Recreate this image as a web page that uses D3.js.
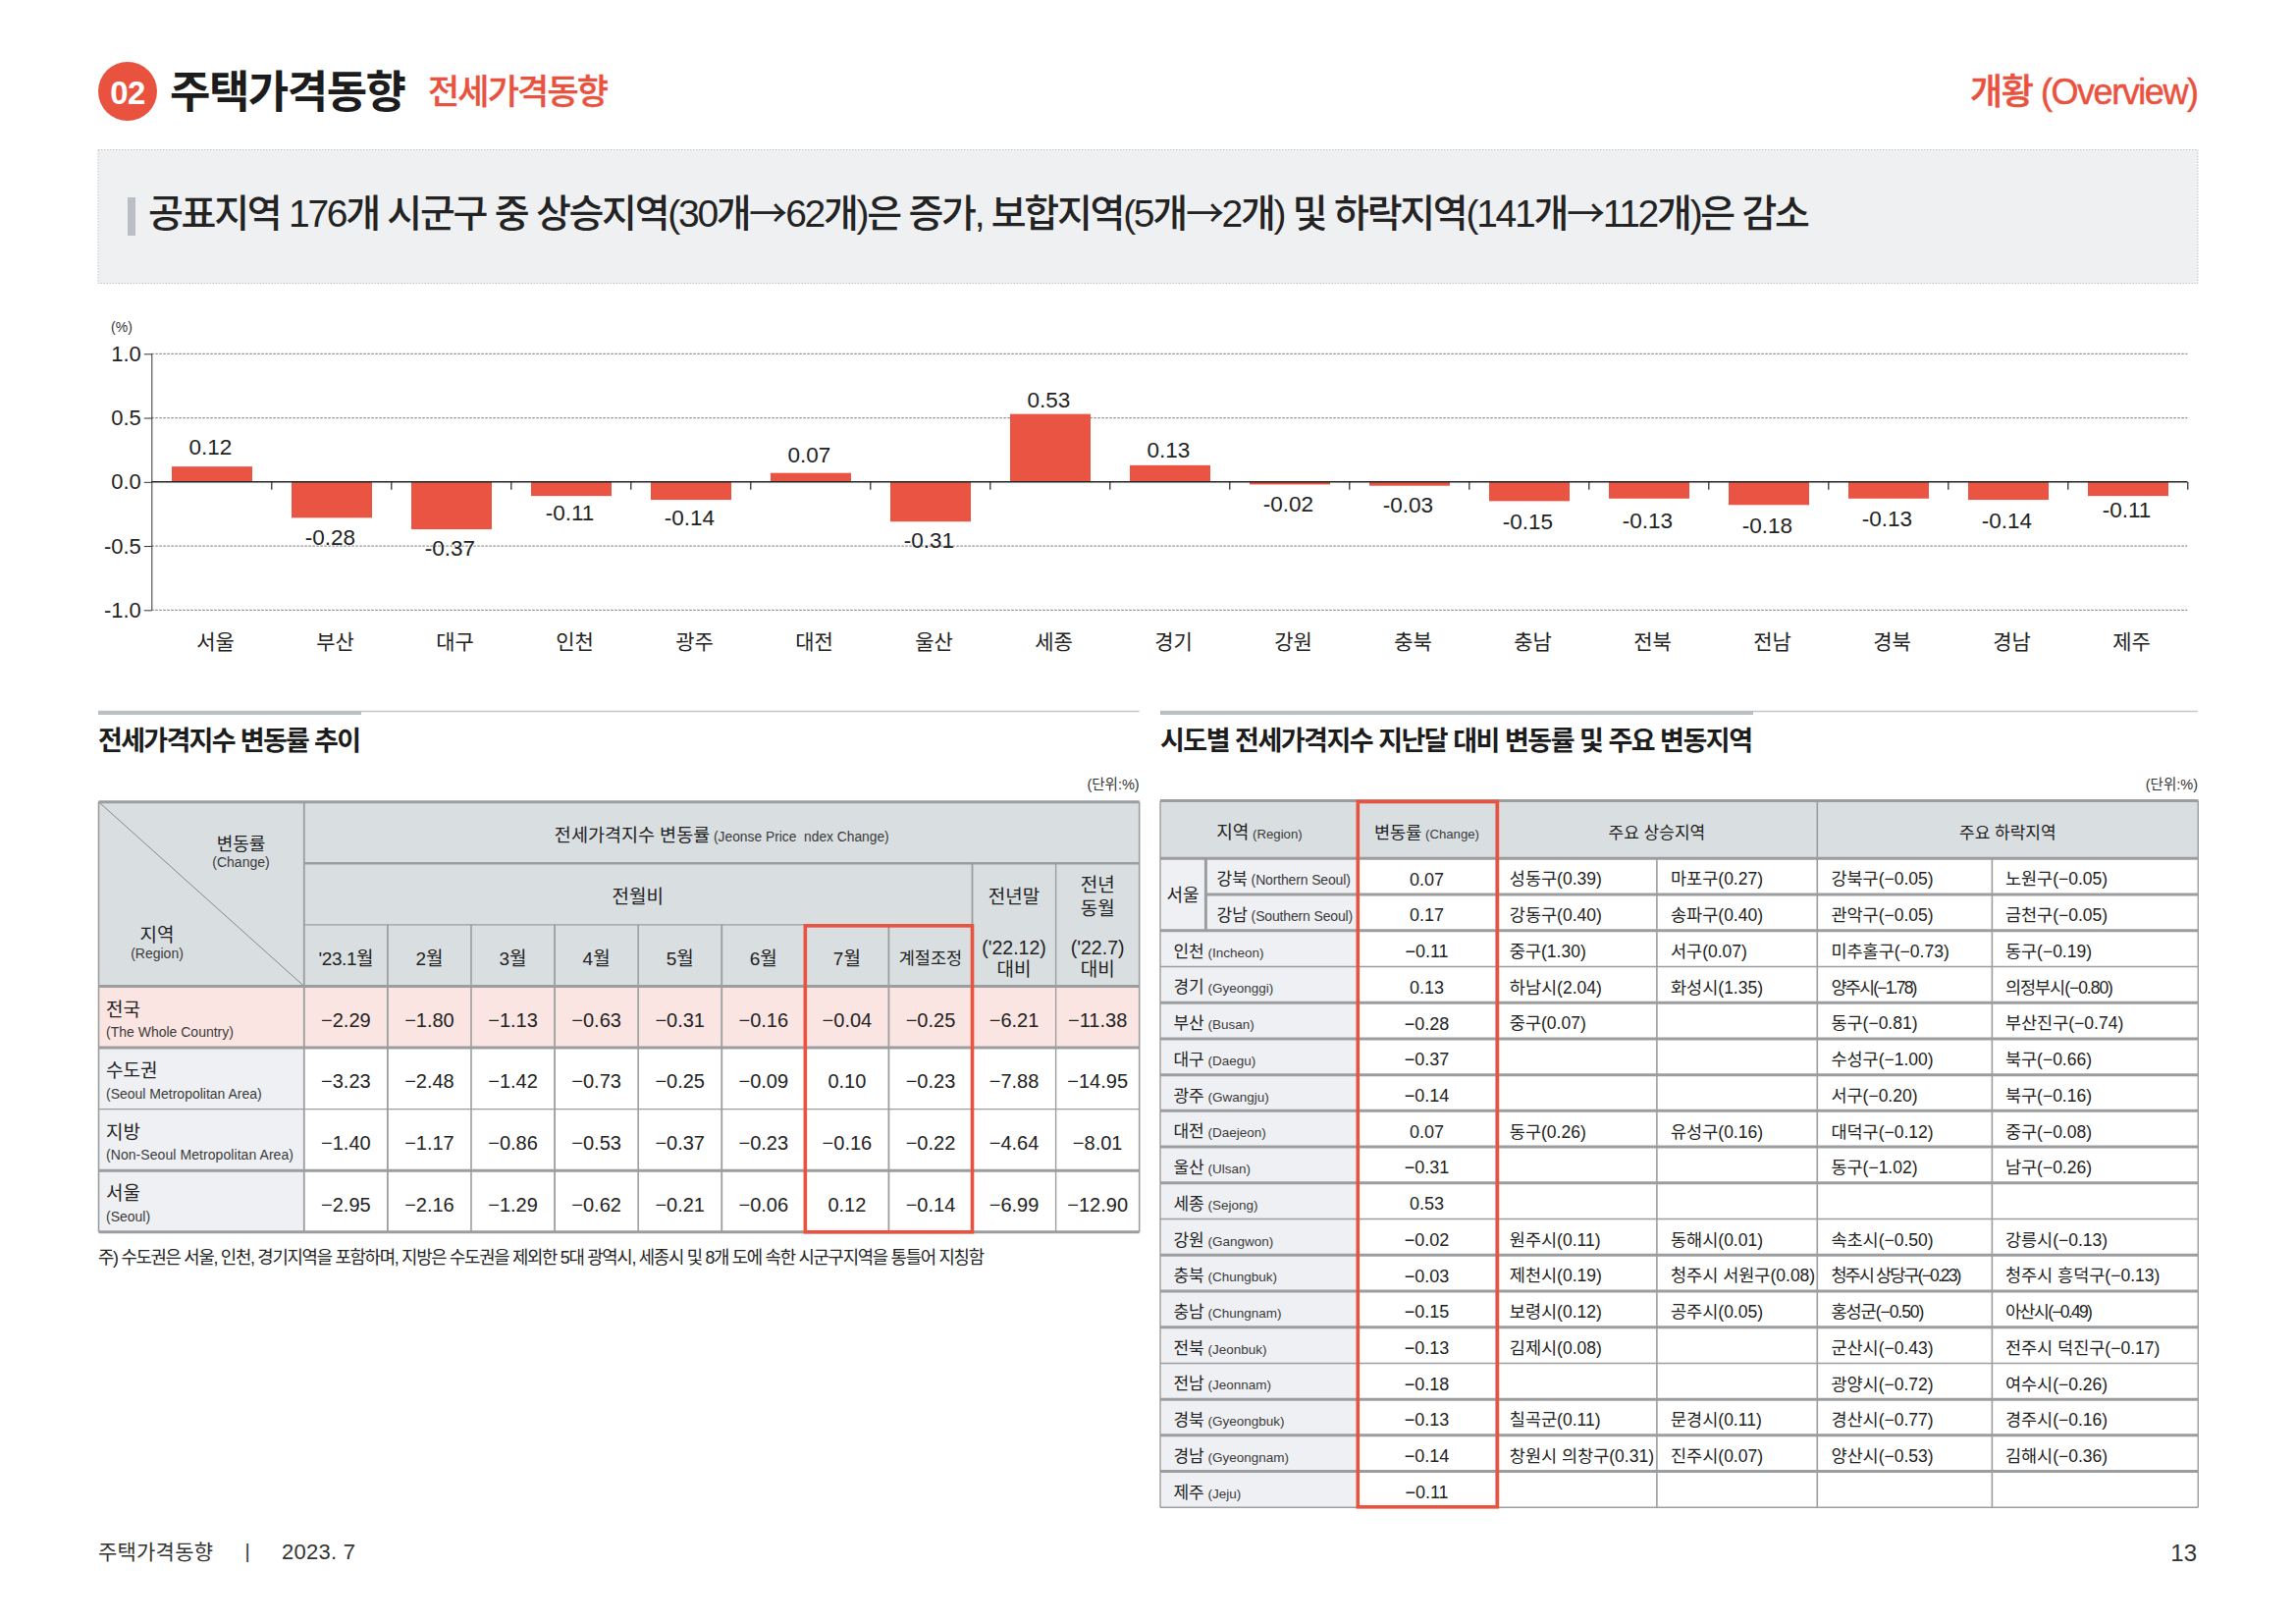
<!DOCTYPE html>
<html lang="ko">
<head>
<meta charset="utf-8">
<title>주택가격동향</title>
<script src="https://cdn.jsdelivr.net/npm/d3@7/dist/d3.min.js"></script>
<style>
@font-face{font-family:"ArrowCJK";src:local("Noto Sans CJK KR");unicode-range:U+2192}
html,body{margin:0;padding:0;background:#fff;overflow:hidden}
svg{display:block}
text{font-family:"ArrowCJK","Liberation Sans","Noto Sans CJK KR",sans-serif;fill:#222;white-space:pre}
</style>
</head>
<body>
<svg id="page" width="2339" height="1654" viewBox="0 0 2339 1654"></svg>
<script>
// ---------- chart data ----------
const chartRegions = ["서울","부산","대구","인천","광주","대전","울산","세종","경기","강원","충북","충남","전북","전남","경북","경남","제주"];
const chartValues  = [0.12,-0.28,-0.37,-0.11,-0.14,0.07,-0.31,0.53,0.13,-0.02,-0.03,-0.15,-0.13,-0.18,-0.13,-0.14,-0.11];
const chartTicks   = [1.0,0.5,0.0,-0.5,-1.0];

// ---------- left table data ----------
const leftMonths = ["'23.1월","2월","3월","4월","5월","6월","7월","계절조정"];
const leftRegionsKo = ["전국","수도권","지방","서울"];
const leftRegionsEn = ["(The Whole Country)","(Seoul Metropolitan Area)","(Non-Seoul Metropolitan Area)","(Seoul)"];
const leftRowNational = [-2.29,-1.80,-1.13,-0.63,-0.31,-0.16,-0.04,-0.25,-6.21,-11.38];
const leftRowCapital  = [-3.23,-2.48,-1.42,-0.73,-0.25,-0.09,0.10,-0.23,-7.88,-14.95];
const leftRowLocal    = [-1.40,-1.17,-0.86,-0.53,-0.37,-0.23,-0.16,-0.22,-4.64,-8.01];
const leftRowSeoul    = [-2.95,-2.16,-1.29,-0.62,-0.21,-0.06,0.12,-0.14,-6.99,-12.90];
const leftRows = [leftRowNational,leftRowCapital,leftRowLocal,leftRowSeoul];

// ---------- right table data ----------
const rightRegionsKo = ["강북","강남","인천","경기","부산","대구","광주","대전","울산","세종","강원","충북","충남","전북","전남","경북","경남","제주"];
const rightRegionsEn = ["(Northern Seoul)","(Southern Seoul)","(Incheon)","(Gyeonggi)","(Busan)","(Daegu)","(Gwangju)","(Daejeon)","(Ulsan)","(Sejong)","(Gangwon)","(Chungbuk)","(Chungnam)","(Jeonbuk)","(Jeonnam)","(Gyeongbuk)","(Gyeongnam)","(Jeju)"];
const rightChange = [0.07,0.17,-0.11,0.13,-0.28,-0.37,-0.14,0.07,-0.31,0.53,-0.02,-0.03,-0.15,-0.13,-0.18,-0.13,-0.14,-0.11];
const riseA = ["성동구(0.39)","강동구(0.40)","중구(1.30)","하남시(2.04)","중구(0.07)","","","동구(0.26)","","","원주시(0.11)","제천시(0.19)","보령시(0.12)","김제시(0.08)","","칠곡군(0.11)","창원시 의창구(0.31)",""];
const riseB = ["마포구(0.27)","송파구(0.40)","서구(0.07)","화성시(1.35)","","","","유성구(0.16)","","","동해시(0.01)","청주시 서원구(0.08)","공주시(0.05)","","","문경시(0.11)","진주시(0.07)",""];
const fallA = ["강북구(-0.05)","관악구(-0.05)","미추홀구(-0.73)","양주시(-1.78)","동구(-0.81)","수성구(-1.00)","서구(-0.20)","대덕구(-0.12)","동구(-1.02)","","속초시(-0.50)","청주시 상당구(-0.23)","홍성군(-0.50)","군산시(-0.43)","광양시(-0.72)","경산시(-0.77)","양산시(-0.53)",""];
const fallB = ["노원구(-0.05)","금천구(-0.05)","동구(-0.19)","의정부시(-0.80)","부산진구(-0.74)","북구(-0.66)","북구(-0.16)","중구(-0.08)","남구(-0.26)","","강릉시(-0.13)","청주시 흥덕구(-0.13)","아산시(-0.49)","전주시 덕진구(-0.17)","여수시(-0.26)","경주시(-0.16)","김해시(-0.36)",""];

// ---------- layout (pixels) ----------
const RED="#e9523f", HEAD="#d9dee1", SIDE="#eef0f3", PINK="#fbe5e2", LINE="#9b9d9f";
const chartLabelGaps = [20,20,19,17,18,19,19,15,16,20,19,21,22,21,20,21,14];
const svg = d3.select("#page");

function txt(g,x,y,str,o={}){
  const size=o.size||18;
  const t=g.append("text").attr("x",x).attr("y",y+size*0.36+1.3).text(str)
    .attr("font-size",size).attr("text-anchor",o.anchor||"middle");
  if(o.weight) t.attr("font-weight",o.weight);
  if(o.fill) t.style("fill",o.fill);
  if(o.ls!==undefined) t.attr("letter-spacing",o.ls);
  if(o.len) t.attr("textLength",o.len);
  if(o.stroke) t.style("stroke",o.fill||"#222").style("stroke-width",o.stroke);
  return t;
}
function mixed(g,x,y,ko,en,o={}){
  const sk=o.sk||18, se=o.se||14;
  const t=g.append("text").attr("x",x).attr("y",y+sk*0.36+1.3).attr("text-anchor",o.anchor||"middle");
  const a=t.append("tspan").attr("font-size",sk).text(ko);
  if(o.weight) a.attr("font-weight",o.weight);
  const b=t.append("tspan").attr("font-size",se).style("fill","#3a3a3a").text(" "+en);
  if(o.ls!==undefined) b.attr("letter-spacing",o.ls);
  return t;
}
function hline(g,x1,x2,y,w,c){g.append("line").attr("x1",x1).attr("x2",x2).attr("y1",y).attr("y2",y).attr("stroke",c||LINE).attr("stroke-width",w);}
function vline(g,x,y1,y2,w,c){g.append("line").attr("x1",x).attr("x2",x).attr("y1",y1).attr("y2",y2).attr("stroke",c||LINE).attr("stroke-width",w);}

// ---------- page header ----------
const head=svg.append("g");
head.append("ellipse").attr("cx",130).attr("cy",93).attr("rx",30).attr("ry",30).attr("fill",RED);
txt(head,130,92.5,"02",{size:33,weight:700,fill:"#fff",ls:-0.5});
txt(head,173,92,"주택가격동향",{size:45,anchor:"start",weight:700,fill:"#1c1c1c",len:241});
txt(head,436,92,"전세가격동향",{size:35,anchor:"start",weight:500,fill:RED,len:184,stroke:0.3});
txt(head,2007,92,"개황 (Overview)",{size:36,anchor:"start",weight:500,fill:RED,len:233,stroke:0.5});

const box=svg.append("g");
box.append("rect").attr("x",100).attr("y",152.5).attr("width",2139).attr("height",136)
  .attr("fill","#eff0f2").attr("stroke","#c2c5c9").attr("stroke-dasharray","1.5 1.5");
box.append("rect").attr("x",130).attr("y",201).attr("width",8).attr("height",39).attr("fill","#b9bfc5");
txt(box,151,215.5,"공표지역 176개 시군구 중 상승지역(30개→62개)은 증가, 보합지역(5개→2개) 및 하락지역(141개→112개)은 감소",
  {size:39,anchor:"start",weight:500,fill:"#232323",len:1693});

// ---------- bar chart ----------
const y=d3.scaleLinear().domain([-1,1]).range([621.3,360.3]);
const xEdge=d3.scaleLinear().domain([0,chartRegions.length]).range([154.3,2228.3]);
const x=d3.scaleBand().domain(chartRegions).range([155,2229]).paddingInner(0.328).paddingOuter(0.164);
const chart=svg.append("g");
txt(chart,124,332,"(%)",{size:14,fill:"#333"});

chart.append("g").selectAll("line").data(chartTicks).join("line")
  .attr("x1",154.3).attr("x2",2228.3).attr("y1",d=>y(d)).attr("y2",d=>y(d))
  .attr("stroke",d=>d===0?"none":"#8f8f8f").attr("stroke-width",1.3).attr("stroke-dasharray","2.5 1.5");

chart.append("g").selectAll("rect").data(chartValues).join("rect")
  .attr("x",(d,i)=>x(chartRegions[i])).attr("width",x.bandwidth())
  .attr("y",d=>y(Math.max(d,0))).attr("height",d=>Math.abs(y(d)-y(0))).attr("fill","#ea5443");

const yAxis=chart.append("g").attr("transform","translate(154.8,0)")
  .call(d3.axisLeft(y).tickValues(chartTicks).tickSize(8).tickPadding(3).tickFormat(d=>d3.format(".1f")(d).replace("−","-")));
yAxis.selectAll("text").attr("font-size",22).style("fill","#222");
yAxis.selectAll("line").attr("stroke","#333").attr("stroke-width",1);
yAxis.select(".domain").attr("stroke","#333").attr("stroke-width",1).attr("d","M0,360.3V621.3");

const xTickAxis=chart.append("g").attr("transform",`translate(0,${y(0)})`)
  .call(d3.axisBottom(xEdge).tickValues(d3.range(1,chartRegions.length+1)).tickSize(8).tickFormat(""));
xTickAxis.selectAll("line").attr("stroke","#222").attr("stroke-width",1.2);
xTickAxis.select(".domain").attr("stroke","#222").attr("stroke-width",1.6).attr("d","M154.3,0H2228.3");

const xLabelAxis=chart.append("g").attr("transform","translate(3.5,621.3)")
  .call(d3.axisBottom(x).tickSize(0).tickPadding(25));
xLabelAxis.select(".domain").remove();
xLabelAxis.selectAll("text").attr("font-size",21).style("fill","#222");

const fmt2=d3.format(".2f");
chart.append("g").selectAll("text").data(chartValues).join("text")
  .attr("x",(d,i)=>x(chartRegions[i])+x.bandwidth()/2-1.5)
  .attr("y",(d,i)=>y(d)+(d>=0?-1:1)*chartLabelGaps[i]+8)
  .attr("text-anchor","middle").attr("font-size",22.5)
  .text(d=>fmt2(d).replace("−","-"));

// ---------- section headings ----------
const sec=svg.append("g");
hline(sec,100,1160.7,724.5,1.6,"#c3c8ca");
hline(sec,100,368,726,4,"#b8c0c4");
hline(sec,1182,2239,724.5,1.6,"#c3c8ca");
hline(sec,1182,1786,726,4,"#b8c0c4");
txt(sec,100,752.7,"전세가격지수 변동률 추이",{size:27,anchor:"start",weight:700,fill:"#1c1c1c",len:268});
txt(sec,1182,752.7,"시도별 전세가격지수 지난달 대비 변동률 및 주요 변동지역",{size:27,anchor:"start",weight:700,fill:"#1c1c1c",len:604});
txt(sec,1160.7,797,"(단위:%)",{size:14.5,anchor:"end",fill:"#333"});
txt(sec,2239,797,"(단위:%)",{size:14.5,anchor:"end",fill:"#333"});

// ---------- left table ----------
const L=svg.append("g");
const lc=d3.scaleLinear().domain([0,10]).range([309.8,1160.7]);
const lr=d3.scaleLinear().domain([0,7]).range([816.7,1254.8]);
const lx0=100.5;
L.append("rect").attr("x",lx0).attr("y",lr(0)).attr("width",lc(10)-lx0).attr("height",lr(3)-lr(0)).attr("fill",HEAD);
L.append("g").selectAll("rect").data(leftRows).join("rect")
  .attr("x",lx0).attr("y",(d,i)=>lr(i+3)).attr("width",lc(0)-lx0).attr("height",lr(1)-lr(0))
  .attr("fill",(d,i)=>i===0?PINK:SIDE);
L.append("rect").attr("x",lc(0)).attr("y",lr(3)).attr("width",lc(10)-lc(0)).attr("height",lr(1)-lr(0)).attr("fill",PINK);
L.append("line").attr("x1",lx0).attr("y1",lr(0)).attr("x2",lc(0)).attr("y2",lr(3)).attr("stroke","#85898c").attr("stroke-width",1);

hline(L,lc(0),lc(10),lr(1),2.6);
hline(L,lc(0),lc(8),lr(2),1.4);
[[0,3],[3,3],[4,3],[5,1.4],[6,3],[7,3]].forEach(([r,w])=>hline(L,lx0,lc(10),lr(r),w));
vline(L,lx0,lr(0),lr(7),1.6);
vline(L,lc(10),lr(0),lr(7),1.6);
vline(L,lc(0),lr(0),lr(7),1.8);
vline(L,lc(8),lr(1),lr(7),1.8);
vline(L,lc(9),lr(1),lr(7),1.4);
d3.range(1,8).forEach(c=>vline(L,lc(c),lr(2),lr(7),c%2?1.8:1.6));

txt(L,245.5,858.5,"변동률",{size:18});
txt(L,245.5,877,"(Change)",{size:14,fill:"#3a3a3a"});
txt(L,160,951,"지역",{size:19});
txt(L,160,969.5,"(Region)",{size:14,fill:"#3a3a3a"});
mixed(L,735.3,849,"전세가격지수 변동률","(Jeonse Price \u00a0ndex Change)",{sk:18.5,se:13.8});
txt(L,649.8,911.5,"전월비",{size:19});
leftMonths.forEach((m,i)=>txt(L,(lc(i)+lc(i+1))/2,974.5,m,{size:i===7?17.5:19,ls:i===0?-0.4:0}));
const c8=(lc(8)+lc(9))/2, c9=(lc(9)+lc(10))/2;
txt(L,c8,911.7,"전년말",{size:19});
txt(L,c8,963.3,"('22.12)",{size:19.5});
txt(L,c8,986,"대비",{size:19});
txt(L,c9,900,"전년",{size:19});
txt(L,c9,924,"동월",{size:19});
txt(L,c9,963.3,"('22.7)",{size:19.5});
txt(L,c9,986,"대비",{size:19});

leftRegionsKo.forEach((k,i)=>{
  txt(L,108,lr(i+3)+22,k,{size:19,anchor:"start"});
  txt(L,108,lr(i+3)+45.5,leftRegionsEn[i],{size:14,anchor:"start",fill:"#3a3a3a",len:i===2?191:undefined});
});
L.append("g").selectAll("g").data(leftRows).join("g").each(function(row,r){
  d3.select(this).selectAll("text").data(row).join("text")
    .attr("x",(d,c)=>(lc(c)+lc(c+1))/2).attr("y",lr(r+3)+(lr(1)-lr(0))/2+10)
    .attr("text-anchor","middle").attr("font-size",20).text(d=>fmt2(d));
});
L.append("rect").attr("x",lc(6)).attr("y",lr(2)+1).attr("width",lc(8)-lc(6)).attr("height",lr(7)-lr(2)-1)
  .attr("fill","none").attr("stroke",RED).attr("stroke-width",3.6);

txt(L,100,1279,"주) 수도권은 서울, 인천, 경기지역을 포함하며, 지방은 수도권을 제외한 5대 광역시, 세종시 및 8개 도에 속한 시군구지역을 통틀어 지칭함",
  {size:17.8,anchor:"start",len:903});

// ---------- right table ----------
const R=svg.append("g");
const rCols=d3.scaleOrdinal().domain(["left","sub","region","change","riseA","riseB","fallA","fallB","end"])
  .range([1182,1228.4,1382.7,1524.4,1687.9,1851.3,2029.4,2239.3,2239.3]);
const rr=d3.scaleLinear().domain([0,rightRegionsKo.length]).range([874.3,1535.3]);
const rTop=815.5;
R.append("rect").attr("x",rCols("left")).attr("y",rTop).attr("width",rCols("end")-rCols("left")).attr("height",rr(0)-rTop).attr("fill",HEAD);
R.append("rect").attr("x",rCols("left")).attr("y",rr(0)).attr("width",rCols("region")-rCols("left")).attr("height",rr(18)-rr(0)).attr("fill",SIDE);

const thinRows=[2,9,13,17];
rightRegionsKo.forEach((k,i)=>hline(R,i===0?rCols("sub"):rCols("left"),rCols("end"),rr(i+1),thinRows.includes(i)?1.5:3));
hline(R,rCols("left"),rCols("end"),rTop,3);
hline(R,rCols("left"),rCols("end"),rr(0),3);
vline(R,rCols("left"),rTop,rr(18),1.4);
vline(R,rCols("end"),rTop,rr(18),1.4);
vline(R,rCols("sub"),rr(0),rr(2),3);
vline(R,rCols("riseB"),rTop,rr(18),1.6);
vline(R,rCols("riseA"),rr(0),rr(18),1.6);
vline(R,rCols("fallA"),rr(0),rr(18),1.6);
vline(R,rCols("change"),rTop,rr(18),1.6);

mixed(R,1283,846,"지역","(Region)",{sk:18,se:13.2});
mixed(R,1453.5,846,"변동률","(Change)",{sk:17.5,se:13.2});
txt(R,1687.9,846.5,"주요 상승지역",{size:17});
txt(R,2045.3,846.5,"주요 하락지역",{size:17});
txt(R,1205,rr(1)-0.5,"서울",{size:18});

const tightCells={"청주시 상당구(-0.23)":133,"양주시(-1.78)":88,"아산시(-0.49)":89,"홍성군(-0.50)":95,"의정부시(-0.80)":110};
const cellCols=[[riseA,1537.8],[riseB,1702],[fallA,1865.4],[fallB,2042.9]];
rightRegionsKo.forEach((k,i)=>{
  const cy=(rr(i)+rr(i+1))/2+1.2;
  const lx=i<2?1239.6:1195.4;
  mixed(R,lx,cy,k,rightRegionsEn[i],{anchor:"start",sk:17,se:i<2?14:13.5,ls:i<2?-0.15:0});
  txt(R,1453.5,cy,fmt2(rightChange[i]),{size:18});
  cellCols.forEach(([col,cx])=>{
    if(col[i]) txt(R,cx,cy,col[i].replace("-","−"),{size:17.5,anchor:"start",len:tightCells[col[i]]});
  });
});
R.append("rect").attr("x",rCols("region")+0.6).attr("y",rTop+1).attr("width",rCols("change")-rCols("region")+0.4).attr("height",rr(18)-rTop-1.5)
  .attr("fill","none").attr("stroke",RED).attr("stroke-width",3.6);

// ---------- footer ----------
const foot=svg.append("g");
txt(foot,100,1578.7,"주택가격동향",{size:21,anchor:"start",fill:"#333",len:117});
txt(foot,252,1578.7,"|",{size:20,fill:"#333"});
txt(foot,287,1578.7,"2023. 7",{size:22,anchor:"start",fill:"#333",len:75});
txt(foot,2238,1579.7,"13",{size:24,anchor:"end",fill:"#333"});
</script>
</body>
</html>
